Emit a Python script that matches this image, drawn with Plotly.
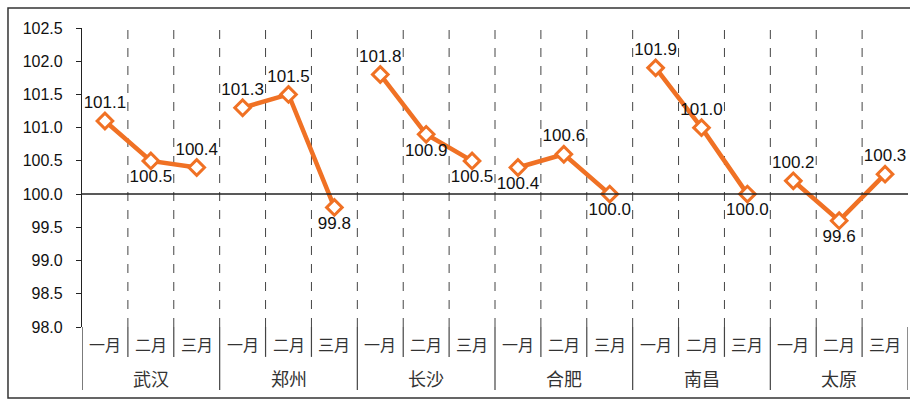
import plotly.graph_objects as go

cities = ["武汉", "郑州", "长沙", "合肥", "南昌", "太原"]
months = ["一月", "二月", "三月"]
wuhan = [101.1, 100.5, 100.4]
zhengzhou = [101.3, 101.5, 99.8]
changsha = [101.8, 100.9, 100.5]
hefei = [100.4, 100.6, 100.0]
nanchang = [101.9, 101.0, 100.0]
taiyuan = [100.2, 99.6, 100.3]
series = [wuhan, zhengzhou, changsha, hefei, nanchang, taiyuan]
label_pos = [["top", "bottom", "top"],
             ["top", "top", "bottom"],
             ["top", "bottom", "bottom"],
             ["bottom", "top", "bottom"],
             ["top", "top", "bottom"],
             ["top", "bottom", "top"]]
y_ticks = [98.0, 98.5, 99.0, 99.5, 100.0, 100.5, 101.0, 101.5, 102.0, 102.5]

ORANGE = "#F07124"
NUM_FONT = "Liberation Sans, Arial, sans-serif"
CJK_FONT = "Noto Sans CJK SC, sans-serif"

fig = go.Figure()
nm = len(months)
for ci, vals in enumerate(series):
    xs = [ci * nm + k for k in range(nm)]
    fig.add_trace(go.Scatter(
        x=xs, y=vals, mode="lines+markers+text",
        line=dict(color=ORANGE, width=4.5),
        marker=dict(symbol="diamond", size=12, color="white",
                    line=dict(color=ORANGE, width=3)),
        text=[f"{v:.1f}" for v in vals],
        textposition=[p + " center" for p in label_pos[ci]],
        textfont=dict(family=NUM_FONT, size=17, color="#111"),
        showlegend=False, cliponaxis=False, hoverinfo="skip"))

n = len(cities) * nm
shapes = []
# dashed vertical separators inside plot
for b in range(1, n):
    shapes.append(dict(type="line", xref="x", yref="paper", x0=b - 0.5, x1=b - 0.5,
                       y0=0, y1=1, line=dict(color="#444", width=1, dash="dash"), layer="below"))
# solid separators in category axis area
for b in range(0, n + 1):
    long_line = (b % nm == 0)
    shapes.append(dict(type="line", xref="x", yref="paper", x0=b - 0.5, x1=b - 0.5,
                       y0=0, y1=(-0.211 if long_line else -0.10),
                       line=dict(color="#444" if b else "#222", width=1.2)))
# baseline at 100
shapes.append(dict(type="line", xref="paper", yref="y", x0=0, x1=1, y0=100, y1=100,
                   line=dict(color="#222", width=1.5)))
# outer border
shapes.append(dict(type="rect", xref="paper", yref="paper", x0=-0.0896, x1=1.02,
                   y0=-0.2375, y1=1.067, line=dict(color="#333", width=1.5)))

annotations = []
for ci, c in enumerate(cities):
    for k, m in enumerate(months):
        annotations.append(dict(x=ci * nm + k, y=-0.057, xref="x", yref="paper",
                                yanchor="middle", xanchor="center",
                                text=m, showarrow=False,
                                font=dict(family=CJK_FONT, size=16, color="#333")))
    annotations.append(dict(x=ci * nm + 1, y=-0.171, xref="x", yref="paper",
                            yanchor="middle", xanchor="center",
                            text=c, showarrow=False,
                            font=dict(family=CJK_FONT, size=18, color="#333")))

fig.update_layout(
    width=910, height=402,
    margin=dict(l=82, r=2, t=28, b=75),
    paper_bgcolor="white", plot_bgcolor="white",
    shapes=shapes, annotations=annotations,
    xaxis=dict(range=[-0.5, n - 0.5], showticklabels=False, showgrid=False,
               zeroline=False, showline=False, ticks=""),
    yaxis=dict(range=[98.0, 102.5], tickvals=y_ticks,
               ticktext=[f"{v:.1f}" for v in y_ticks],
               showgrid=False, zeroline=False, showline=True, linecolor="#222",
               linewidth=1.2, ticks="outside", ticklen=5, tickcolor="#222",
               ticklabelstandoff=10,
               tickfont=dict(family=NUM_FONT, size=16, color="#111")),
)

fig.write_html("out.html")
